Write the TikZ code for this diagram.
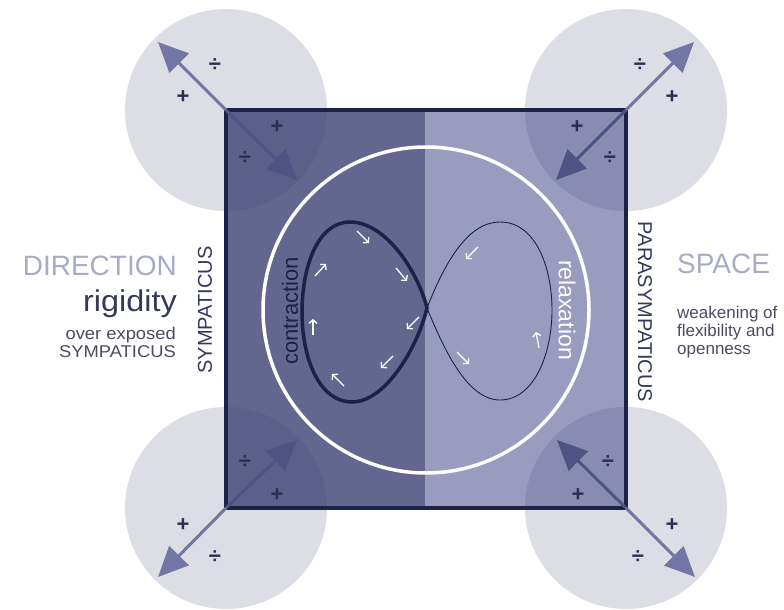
\documentclass[tikz,border=0pt]{standalone}
\usepackage{fontspec}
\setmainfont{Liberation Sans}
\newfontfamily\widesans{Liberation Sans}[FakeStretch=1.08]
\usetikzlibrary{arrows.meta}
\definecolor{sqdark}{HTML}{63678F}
\definecolor{sqlight}{HTML}{9A9CBF}
\definecolor{navy}{HTML}{1E2146}
\definecolor{cornerfill}{HTML}{3D4070}
\definecolor{outarr}{HTML}{7376A5}
\definecolor{inarr}{HTML}{4F5384}
\definecolor{symcol}{HTML}{2B2E4F}
\definecolor{pale}{HTML}{A9ABC6}
\definecolor{darktxt}{HTML}{35385A}
\definecolor{graytxt}{HTML}{4A4C60}
\begin{document}
\begin{tikzpicture}[x=1pt,y=-1pt,
  cornerdisc/.style={fill=cornerfill, fill opacity=0.18},
  outerarrow/.style={draw=outarr, line width=3pt, -{Triangle[length=30pt,width=27pt]}},
  innerarrow/.style={draw=inarr, line width=3pt, -{Triangle[length=30pt,width=27pt]}},
  sym/.style={text=symcol, font=\fontsize{22}{22}\selectfont\bfseries, inner sep=0pt},
  flow/.style={draw=white, line width=1.3pt, -{Straight Barb[length=3.5pt,width=8pt]}},
  bigpale/.style={text=pale, font=\fontsize{28}{28}\selectfont, inner sep=0pt},
  smalltxt/.style={text=graytxt, font=\fontsize{17}{17}\selectfont, inner sep=0pt},
  leftsmall/.style={text=graytxt, font=\widesans\fontsize{17}{17}\selectfont, inner sep=0pt},
  vlabel/.style={text=darktxt, font=\fontsize{20}{20}\selectfont, inner sep=0pt}
]
\useasboundingbox (0,0) rectangle (784,610);
% corners
\coordinate (cTL) at (226,110);
\coordinate (cTR) at (626,110);
\coordinate (cBL) at (226,508);
\coordinate (cBR) at (626,508);
\coordinate (mT) at (425,110);
\coordinate (mB) at (425,508);
% square halves
\fill[sqdark] (cTL) rectangle (mB);
\fill[sqlight] (mT) rectangle (cBR);
% corner discs
\fill[cornerdisc] (cTL) circle (101);
\fill[cornerdisc] (cTR) circle (101);
\fill[cornerdisc] (cBL) circle (101);
\fill[cornerdisc] (cBR) circle (101);
% border
\draw[navy, line width=4pt] (cTL) rectangle (cBR);
% white circle
\coordinate (ctr) at (426,310);
\draw[white, line width=3.5pt] (ctr) circle (163);
% infinity loops
\coordinate (X) at (427,308);
\draw[navy, line width=0.9pt]
  (X) .. controls (445,262) and (468,222) .. (500,222)
      .. controls (536,222) and (552,268) .. (552,310)
      .. controls (552,354) and (534,400) .. (500,400)
      .. controls (468,400) and (445,352) .. (X);
\draw[navy, line width=3.5pt]
  (X) .. controls (418,272) and (386,222) .. (350,222)
      .. controls (318,222) and (302,266) .. (302,312)
      .. controls (302,360) and (320,402) .. (352,402)
      .. controls (386,402) and (418,346) .. (X) -- cycle;
% small flow arrows
\draw[flow] (357,231) -- (369,243);
\draw[flow] (396,268) -- (407,281);
\draw[flow] (419,317) -- (407,329);
\draw[flow] (393,356) -- (381,368);
\draw[flow] (344,386) -- (332,374);
\draw[flow] (313,335) -- (313,319);
\draw[flow] (315,276) -- (326,264);
\draw[flow] (478,247) -- (466,259);
\draw[flow] (457,352) -- (469,364);
\draw[flow] (539,348) -- (536,332);
% corner arrows
\coordinate (tTLo) at (158,42);
\coordinate (tTLi) at (297,180);
\coordinate (tTRo) at (694,42);
\coordinate (tTRi) at (556,180);
\coordinate (tBLo) at (158,577);
\coordinate (tBLi) at (297,440);
\coordinate (tBRo) at (695,577);
\coordinate (tBRi) at (557,440);
\draw[outerarrow] (cTL) -- (tTLo);
\draw[innerarrow] (cTL) -- (tTLi);
\draw[outerarrow] (cTR) -- (tTRo);
\draw[innerarrow] (cTR) -- (tTRi);
\draw[outerarrow] (cBL) -- (tBLo);
\draw[innerarrow] (cBL) -- (tBLi);
\draw[outerarrow] (cBR) -- (tBRo);
\draw[innerarrow] (cBR) -- (tBRi);
% symbols
\node[sym] (s1) at (215,65) {÷};
\node[sym] (s2) at (183,97) {+};
\node[sym] (s3) at (277,127) {+};
\node[sym] (s4) at (245,158) {÷};
\node[sym] (s5) at (640,65) {÷};
\node[sym] (s6) at (672,97) {+};
\node[sym] (s7) at (577,127) {+};
\node[sym] (s8) at (610,158) {÷};
\node[sym] (s9) at (183,525) {+};
\node[sym] (s10) at (215,557) {÷};
\node[sym] (s11) at (245,462) {÷};
\node[sym] (s12) at (277,495) {+};
\node[sym] (s13) at (672,525) {+};
\node[sym] (s14) at (638,557) {÷};
\node[sym] (s15) at (608,462) {÷};
\node[sym] (s16) at (578,495) {+};
% loop labels
\node[text=navy, font=\fontsize{22}{22}\selectfont, inner sep=0pt, rotate=90] (contr) at (290,311) {contraction};
\node[text=white, font=\fontsize{23}{23}\selectfont, inner sep=0pt, rotate=-90] (relax) at (567,310) {relaxation};
% side labels
\node[vlabel, rotate=90] (symp) at (205,310) {SYMPATICUS};
\node[vlabel, rotate=-90] (para) at (645,312) {PARASYMPATICUS};
% left text
\node[bigpale, anchor=base east] (dir) at (177,275) {DIRECTION};
\node[text=darktxt, font=\widesans\fontsize{30}{30}\selectfont, inner sep=0pt, anchor=base east] (rig) at (177,311) {rigidity};
\node[leftsmall, anchor=base east] (over) at (176,339) {over exposed};
\node[leftsmall, anchor=base east] (sympt) at (176,357) {SYMPATICUS};
% right text
\node[bigpale, anchor=base west] (space) at (677,273) {SPACE};
\node[smalltxt, anchor=base west] (w1) at (677,318) {weakening of};
\node[smalltxt, anchor=base west] (w2) at (677,336) {flexibility and};
\node[smalltxt, anchor=base west] (w3) at (677,354) {openness};
\end{tikzpicture}
\end{document}
